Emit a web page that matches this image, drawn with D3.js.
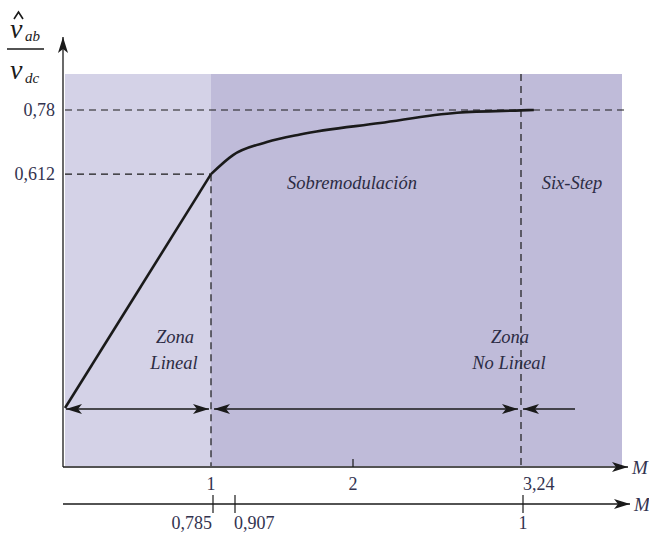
<!DOCTYPE html>
<html><head><meta charset="utf-8">
<script src="https://cdn.jsdelivr.net/npm/d3@7"></script>
<style>body{margin:0;background:#fff}svg{display:block}</style>
</head><body>
<script>
// Data
const curveM = [0, 1, 1.155, 1.394, 1.627, 2.2, 2.768, 3.24, 3.33];
const curveV = [0, 0.612, 0.662, 0.696, 0.716, 0.746, 0.773, 0.779, 0.78];
const topTicks = [1, 2, 3.24];
const topTickLabels = ["1", "2", "3,24"];
const bottomTicks = [0.785, 0.907, 1];
const bottomTickLabels = ["0,785", "0,907", "1"];
const yTicks = [0.612, 0.78];
const yTickLabels = ["0,612", "0,78"];
const regionNames = ["Zona Lineal", "Sobremodulación", "Six-Step", "Zona No Lineal"];

const W = 649, H = 535;
const svg = d3.select("body").append("svg").attr("width", W).attr("height", H);

const x = d3.scaleLinear().domain([0, 1, 2, 3.24, 3.95]).range([65, 211, 353, 521, 622]);
const y = d3.scaleLinear().domain([0, 0.78]).range([408, 110]);
const xb = d3.scaleLinear().domain([0.785, 0.907, 1]).range([213, 235, 523]);

const ink = "#1a1a1a";
const txt = "#33334f";
const serif = "'Liberation Serif', 'DejaVu Serif', serif";

const defs = svg.append("defs");
defs.append("marker").attr("id","ah").attr("viewBox","0 0 16 10").attr("refX",16).attr("refY",5)
  .attr("markerWidth",16).attr("markerHeight",10).attr("markerUnits","userSpaceOnUse").attr("orient","auto-start-reverse")
  .append("path").attr("d","M0,0 L16,5 L0,10 L4,5 Z").attr("fill", ink);

// backgrounds
const bgTop = 74, bgBot = 466;
svg.append("rect").attr("x", x(0)).attr("y", bgTop).attr("width", x(1)-x(0)).attr("height", bgBot-bgTop).attr("fill", "#d4d2e7");
svg.append("rect").attr("x", x(1)).attr("y", bgTop).attr("width", x(3.95)-x(1)).attr("height", bgBot-bgTop).attr("fill", "#bfbbd9");

// dashed guides
const dash = "7,5";
svg.append("line").attr("x1", x(0)).attr("x2", 626).attr("y1", y(0.78)).attr("y2", y(0.78)).attr("stroke", ink).attr("stroke-width",1.2).attr("stroke-dasharray", dash);
svg.append("line").attr("x1", x(0)).attr("x2", x(1)).attr("y1", y(0.612)).attr("y2", y(0.612)).attr("stroke", ink).attr("stroke-width",1.2).attr("stroke-dasharray", dash);
svg.append("line").attr("x1", x(1)).attr("x2", x(1)).attr("y1", y(0.612)).attr("y2", bgBot).attr("stroke", ink).attr("stroke-width",1.2).attr("stroke-dasharray", dash);
svg.append("line").attr("x1", x(3.24)).attr("x2", x(3.24)).attr("y1", bgTop).attr("y2", bgBot).attr("stroke", ink).attr("stroke-width",1.2).attr("stroke-dasharray", dash);

// curve
const pts = curveM.map((m,i)=>[m, curveV[i]]);
const lin = d3.line().x(d=>x(d[0])).y(d=>y(d[1])).curve(d3.curveMonotoneX);
svg.append("path").attr("d", d3.line().x(d=>x(d[0])).y(d=>y(d[1]))(pts.slice(0,2))).attr("fill","none").attr("stroke",ink).attr("stroke-width",2.6);
svg.append("path").attr("d", lin(pts.slice(1))).attr("fill","none").attr("stroke",ink).attr("stroke-width",2.6);

// region arrows
const ay = y(0) + 1;
svg.append("line").attr("x1", x(0)+1).attr("x2", x(1)-2).attr("y1", ay).attr("y2", ay).attr("stroke", ink).attr("stroke-width",1.3)
  .attr("marker-start","url(#ah)").attr("marker-end","url(#ah)");
svg.append("line").attr("x1", x(1)+3).attr("x2", x(3.24)-3).attr("y1", ay).attr("y2", ay).attr("stroke", ink).attr("stroke-width",1.3)
  .attr("marker-start","url(#ah)").attr("marker-end","url(#ah)");
svg.append("line").attr("x1", 575).attr("x2", x(3.24)+2).attr("y1", ay).attr("y2", ay).attr("stroke", ink).attr("stroke-width",1.3)
  .attr("marker-end","url(#ah)");

// axes
svg.append("line").attr("x1", 63).attr("x2", 63).attr("y1", 467).attr("y2", 37).attr("stroke", ink).attr("stroke-width",1.3).attr("marker-end","url(#ah)");
svg.append("line").attr("x1", 63).attr("x2", 628).attr("y1", 467).attr("y2", 467).attr("stroke", ink).attr("stroke-width",1.3).attr("marker-end","url(#ah)");
svg.append("line").attr("x1", 63).attr("x2", 630).attr("y1", 504).attr("y2", 504).attr("stroke", ink).attr("stroke-width",1.3).attr("marker-end","url(#ah)");

// top axis ticks (M=2 has a small tick)
svg.append("line").attr("x1", x(2)).attr("x2", x(2)).attr("y1", 459).attr("y2", 467).attr("stroke", ink).attr("stroke-width",1.2);
topTicks.forEach((t,i)=>{
  svg.append("text").attr("x", t===3.24 ? x(t)+2 : x(t)).attr("y", 490)
    .attr("text-anchor", t===3.24 ? "start" : "middle")
    .attr("font-family", serif).attr("font-size", 18).attr("fill", txt).text(topTickLabels[i]);
});
// bottom axis ticks
bottomTicks.forEach((t,i)=>{
  svg.append("line").attr("x1", xb(t)).attr("x2", xb(t)).attr("y1", 495).attr("y2", 513).attr("stroke", ink).attr("stroke-width",1.2);
  svg.append("text").attr("x", i===2 ? xb(t) : xb(t)-1)
    .attr("y", 529)
    .attr("text-anchor", i===0 ? "end" : (i===1 ? "start" : "middle"))
    .attr("font-family", serif).attr("font-size", 18).attr("fill", txt).text(bottomTickLabels[i]);
});
// y tick labels
yTicks.forEach((t,i)=>{
  svg.append("text").attr("x", 55).attr("y", y(t)+6).attr("text-anchor","end")
    .attr("font-family", serif).attr("font-size", 18).attr("fill", txt).text(yTickLabels[i]);
});

// axis M labels
[[632, 474],[634, 511]].forEach(p=>{
  svg.append("text").attr("x", p[0]).attr("y", p[1]).attr("font-family", serif).attr("font-style","italic")
    .attr("font-size", 19).attr("fill", txt).text("M");
});

// y label fraction
const yl = svg.append("g").attr("font-family", serif).attr("font-style","italic").attr("fill", ink);
yl.append("text").attr("x", 10).attr("y", 38).attr("font-size", 28).text("v");
svg.append("path").attr("d","M14,19 L18.5,12 L23,19").attr("fill","none").attr("stroke",ink).attr("stroke-width",1.6);
yl.append("text").attr("x", 25).attr("y", 41).attr("font-size", 15).text("ab");
svg.append("line").attr("x1", 7).attr("x2", 44).attr("y1", 49).attr("y2", 49).attr("stroke", ink).attr("stroke-width",1.3);
yl.append("text").attr("x", 10).attr("y", 79).attr("font-size", 28).text("v");
yl.append("text").attr("x", 25).attr("y", 83).attr("font-size", 15).text("dc");

// region labels
const lab = svg.append("g").attr("font-family", serif).attr("font-style","italic").attr("font-size", 18.5).attr("fill", "#2c2c44").attr("text-anchor","middle");
lab.append("text").attr("x", 175).attr("y", 343).text("Zona");
lab.append("text").attr("x", 174).attr("y", 369).text("Lineal");
lab.append("text").attr("x", 352).attr("y", 189).text(regionNames[1]);
lab.append("text").attr("x", 572).attr("y", 189).text(regionNames[2]);
lab.append("text").attr("x", 510).attr("y", 343).text("Zona");
lab.append("text").attr("x", 509).attr("y", 369).text("No Lineal");
</script>
</body></html>
